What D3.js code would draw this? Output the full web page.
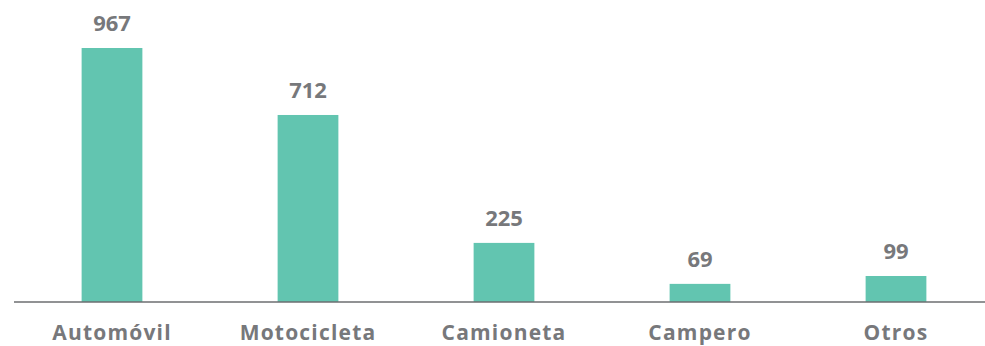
<!DOCTYPE html>
<html><head><meta charset="utf-8">
<script src="https://cdn.jsdelivr.net/npm/d3@7"></script>
<style>body{margin:0;background:#fff}svg{display:block}</style>
</head><body>
<script>
const categories = ["Automóvil","Motocicleta","Camioneta","Campero","Otros"];
const values = [967, 712, 225, 69, 99];

const W = 985, H = 346;
const baseY = 302;
const svg = d3.select("body").append("svg").attr("width", W).attr("height", H);

const x = d3.scaleBand().domain(categories).range([14, 994]).paddingInner(0.69).paddingOuter(0.345);
const y = d3.scaleLinear().domain([0, 967]).range([baseY, 48]);

svg.selectAll("rect.bar").data(values).enter().append("rect")
  .attr("class","bar")
  .attr("x", (d,i) => x(categories[i]))
  .attr("width", x.bandwidth())
  .attr("y", d => y(d))
  .attr("height", d => baseY - y(d))
  .attr("fill", "#62c5b0");

const axis = svg.append("g").attr("transform", `translate(0,${baseY})`)
  .call(d3.axisBottom(x).tickSize(0).tickPadding(0));
axis.select(".domain").attr("d", "M14,0H985").attr("stroke", "#6d6e71").attr("stroke-width", 1.5);
axis.selectAll(".tick text")
  .attr("y", 37.5).attr("dy", null)
  .attr("font-family", "'Open Sans', sans-serif")
  .attr("font-weight", 700).attr("font-size", 21).attr("letter-spacing", 1.2)
  .attr("fill", "#77787b");

svg.selectAll("text.val").data(values).enter().append("text")
  .attr("class","val")
  .attr("x", (d,i) => x(categories[i]) + x.bandwidth()/2)
  .attr("y", d => y(d) - 17)
  .attr("text-anchor","middle")
  .attr("font-family", "'Open Sans', sans-serif")
  .attr("font-weight", 700).attr("font-size", 22).attr("fill", "#77787b")
  .text(d => d);
</script>
</body></html>
